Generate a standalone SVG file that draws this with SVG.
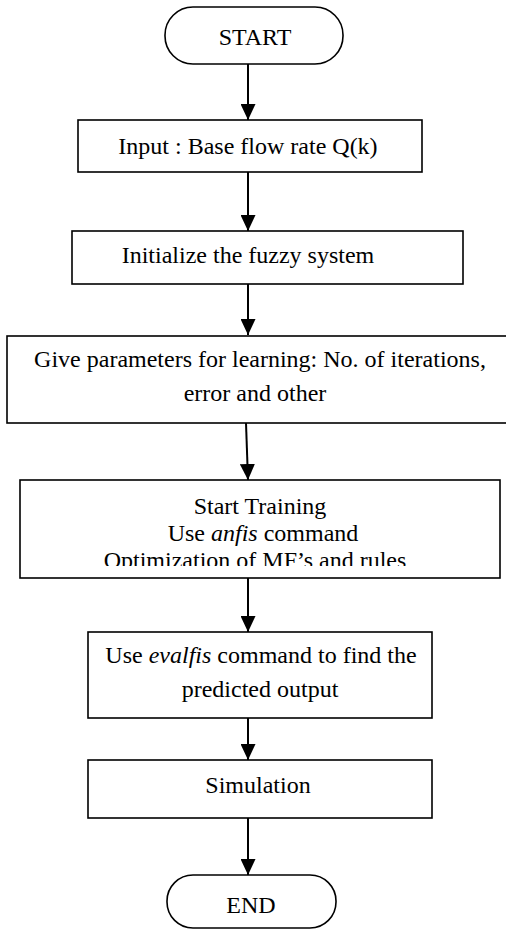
<svg xmlns="http://www.w3.org/2000/svg" width="506" height="930" viewBox="0 0 506 930">
<style>
.box{fill:#fff;stroke:#000;stroke-width:1.6}
.t{font-family:"Liberation Serif","Times New Roman",serif;font-size:24px;fill:#000;text-anchor:middle}
.i{font-style:italic}
.c{stroke:#000;stroke-width:2;fill:none}
</style>
<defs>
<marker id="ah" viewBox="0 0 16 15" refX="16" refY="7.5" markerWidth="16" markerHeight="15" markerUnits="userSpaceOnUse" orient="auto">
<path d="M0,0 L16,7.5 L0,15 Z" fill="#000"/>
</marker>
<clipPath id="clipTrain"><rect x="20" y="480" width="480" height="86"/></clipPath>
</defs>
<rect width="506" height="930" fill="#fff"/>
<g id="connectors">
<line class="c" x1="248" y1="64" x2="248" y2="120" marker-end="url(#ah)"/>
<line class="c" x1="248" y1="172" x2="248" y2="231" marker-end="url(#ah)"/>
<line class="c" x1="248" y1="284" x2="248" y2="335" marker-end="url(#ah)"/>
<line class="c" x1="246" y1="423" x2="248" y2="480" marker-end="url(#ah)"/>
<line class="c" x1="248" y1="578" x2="248" y2="632" marker-end="url(#ah)"/>
<line class="c" x1="248" y1="718" x2="248" y2="760" marker-end="url(#ah)"/>
<line class="c" x1="248" y1="818" x2="248" y2="875" marker-end="url(#ah)"/>
</g>
<g id="start">
<rect class="box" x="165" y="7" width="178" height="57" rx="28" ry="28"/>
<text class="t" x="255" y="45">START</text>
</g>
<g id="input">
<rect class="box" x="78" y="120" width="344" height="52"/>
<text class="t" x="248" y="154">Input : Base flow rate Q(k)</text>
</g>
<g id="init">
<rect class="box" x="72" y="231" width="391" height="53"/>
<text class="t" x="248" y="263">Initialize the fuzzy system</text>
</g>
<g id="params">
<rect class="box" x="7" y="336" width="505" height="87"/>
<text class="t" x="260" y="367">Give parameters for learning: No. of iterations,</text>
<text class="t" x="255" y="401">error and other</text>
</g>
<g id="training">
<rect class="box" x="20" y="480" width="480" height="98"/>
<g clip-path="url(#clipTrain)">
<text class="t" x="260" y="514">Start Training</text>
<text class="t" x="263" y="541">Use <tspan class="i">anfis</tspan> command</text>
<text class="t" x="255" y="568">Optimization of MF’s and rules</text>
</g>
</g>
<g id="evalfis">
<rect class="box" x="88" y="632" width="344" height="86"/>
<text class="t" x="261" y="663">Use <tspan class="i">evalfis</tspan> command to find the</text>
<text class="t" x="260" y="697">predicted output</text>
</g>
<g id="simulation">
<rect class="box" x="88" y="760" width="344" height="58"/>
<text class="t" x="258" y="793">Simulation</text>
</g>
<g id="end">
<rect class="box" x="167" y="875" width="169" height="53" rx="26" ry="26"/>
<text class="t" x="251" y="913">END</text>
</g>
</svg>
